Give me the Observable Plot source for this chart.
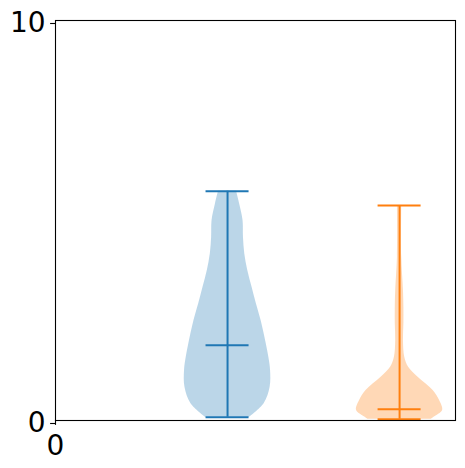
<!DOCTYPE html>
<html>
<head>
<meta charset="utf-8">
<script src="https://cdn.jsdelivr.net/npm/d3@7"></script>
<script src="https://cdn.jsdelivr.net/npm/@observablehq/plot@0.6"></script>
<style>
  html, body { margin: 0; padding: 0; background: #fff; }
  #chart svg { display: block; }
</style>
</head>
<body>
<div id="chart"></div>
<script>
// Violin positions and colours
const positions = [1, 2];
const colors = ["#1f77b4", "#ff7f0e"];

// Density profile for violin 1 (value, relative half-width)
const violin1Values = [0.08, 0.42, 0.83, 1.25, 1.58, 1.92, 2.5, 2.92, 3.33, 3.75, 4.17, 4.58, 5.0, 5.42, 5.73];
const violin1Widths = [0.51, 0.85, 0.99, 1.0, 0.96, 0.90, 0.78, 0.67, 0.57, 0.47, 0.40, 0.37, 0.36, 0.28, 0.21];

// Density profile for violin 2
const violin2Values = [0.03, 0.08, 0.25, 0.5, 0.75, 1.08, 1.33, 1.58, 2.0, 2.42, 2.83, 3.25, 4.08, 5.375];
const violin2Widths = [0.74, 0.8, 1.0, 0.93, 0.78, 0.43, 0.21, 0.12, 0.09, 0.10, 0.10, 0.09, 0.05, 0.05];

// Summary statistics
const mins = [0.08, 0.03];
const medians = [1.88, 0.28];
const maxes = [5.73, 5.375];

// Tick labels
const xTicks = [0];
const yTicks = [0, 10];

const halfWidth = 0.25;   // matplotlib default width 0.5
const capHalf = 0.125;

const profiles = [
  {values: violin1Values, widths: violin1Widths},
  {values: violin2Values, widths: violin2Widths}
];
const bodies = profiles.flatMap((p, i) =>
  p.values.map((v, j) => ({
    group: i,
    y: v,
    x1: positions[i] - p.widths[j] * halfWidth,
    x2: positions[i] + p.widths[j] * halfWidth
  }))
);
const stats = positions.map((pos, i) => ({
  group: i, pos, min: mins[i], median: medians[i], max: maxes[i]
}));
const caps = stats.flatMap(s => [s.min, s.median, s.max].map(v => ({
  group: s.group, y: v, x1: s.pos - capHalf, x2: s.pos + capHalf
})));

const chart = Plot.plot({
  width: 465,
  height: 468,
  marginLeft: 55,
  marginTop: 20,
  marginRight: 10,
  marginBottom: 48,
  style: {fontFamily: "DejaVu Sans", fontSize: "28px", color: "#000", background: "#fff"},
  x: {domain: [0, 2.325], label: null},
  y: {domain: [0, 10], label: null},
  marks: [
    Plot.areaX(bodies, {
      y: "y", x1: "x1", x2: "x2", z: "group",
      fill: d => colors[d.group], fillOpacity: 0.3,
      curve: "catmull-rom"
    }),
    Plot.ruleX(stats, {
      x: "pos", y1: "min", y2: "max",
      stroke: d => colors[d.group], strokeWidth: 2
    }),
    Plot.ruleY(caps, {
      y: "y", x1: "x1", x2: "x2",
      stroke: d => colors[d.group], strokeWidth: 2
    }),
    Plot.frame({stroke: "#000", strokeWidth: 1.1}),
    Plot.axisY({
      ticks: yTicks, tickSize: 4.9, tickPadding: 4.9, dy: 3,
      tickFormat: d => String(d), label: null, fontSize: 28, strokeWidth: 1.1
    }),
    Plot.axisX({
      ticks: xTicks, tickSize: 4.9, tickPadding: 10,
      tickFormat: d => String(d), label: null, fontSize: 28, strokeWidth: 1.1
    })
  ]
});
document.getElementById("chart").appendChild(chart);
</script>
</body>
</html>
